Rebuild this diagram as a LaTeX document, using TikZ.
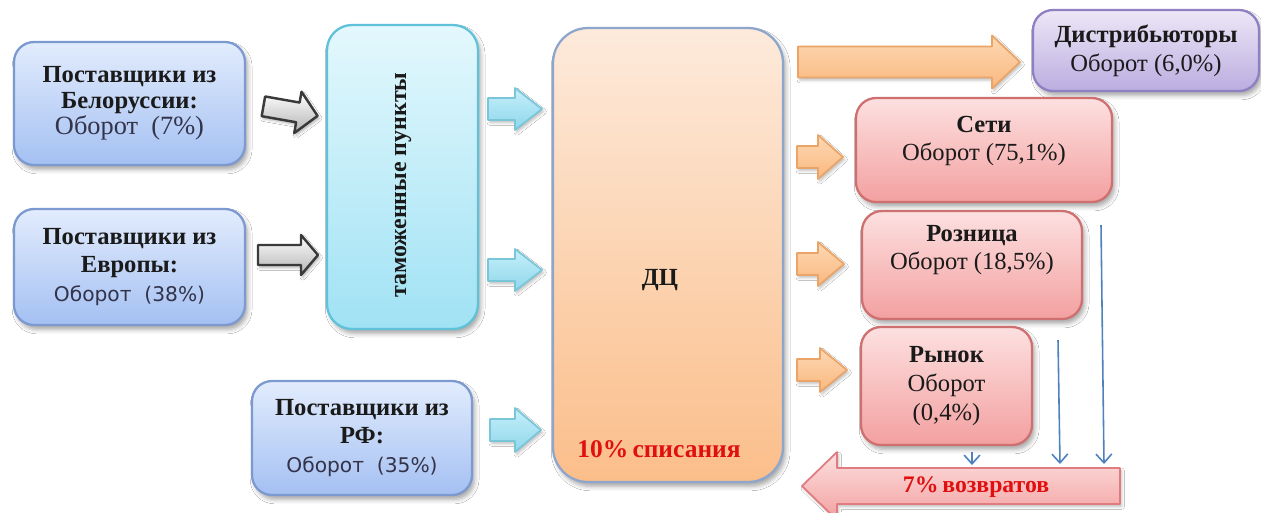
\documentclass[tikz,border=0pt]{standalone}
\usepackage{fontspec}
\setmainfont{Liberation Serif}
\newfontfamily\sansf{DejaVu Sans}
\usetikzlibrary{shadows.blur,arrows.meta}
\definecolor{txt}{HTML}{1A1A1A}
\definecolor{txtB}{HTML}{33334A}
\definecolor{blueT}{HTML}{E2ECFD}
\definecolor{blueD}{HTML}{A4C0F2}
\definecolor{blueB}{HTML}{7C9AD0}
\definecolor{cyanT}{HTML}{E4F8FD}
\definecolor{cyanD}{HTML}{A0E2F4}
\definecolor{cyanB}{HTML}{5FC2D9}
\definecolor{peachT}{HTML}{FDEADB}
\definecolor{peachD}{HTML}{FBBE8A}
\definecolor{peachB}{HTML}{8EA6CC}
\definecolor{lilT}{HTML}{EDE7F7}
\definecolor{lilD}{HTML}{BBADE0}
\definecolor{lilB}{HTML}{8F7FC3}
\definecolor{pinkT}{HTML}{FDE0E0}
\definecolor{pinkD}{HTML}{F3A0A0}
\definecolor{pinkB}{HTML}{CF7070}
\definecolor{grayB}{HTML}{3A3A3A}
\definecolor{barB}{HTML}{79C6D9}
\definecolor{barT}{HTML}{C6EFFA}
\definecolor{barD}{HTML}{8ED7EB}
\definecolor{oarB}{HTML}{EAA468}
\definecolor{oarT}{HTML}{FDD8B4}
\definecolor{oarD}{HTML}{F9B87E}
\definecolor{retB}{HTML}{E07C80}
\definecolor{thinB}{HTML}{4F81BD}
\definecolor{redT}{HTML}{E01010}
\def\pxu{0.02cm}
\newcommand\rarrow[7]{% style, x1, x2, cy, body half, head half, head length
  \path[#1] (#2,-#4+#5) -- (#3-#7,-#4+#5) -- (#3-#7,-#4+#6) -- (#3,-#4)
    -- (#3-#7,-#4-#6) -- (#3-#7,-#4-#5) -- (#2,-#4-#5) -- cycle;}
\tikzset{
  shad/.style={blur shadow={shadow xshift=1.5pt,shadow yshift=-2.5pt,shadow blur radius=2.5pt,shadow opacity=35}},
  box/.style={draw, line width=1.3pt, rounded corners=0.4cm, align=center, inner sep=0pt,
    font=\fontsize{14}{16.4}\selectfont, text=txt, shad},
  bluebox/.style={box, draw=blueB, top color=blueT, bottom color=blueD},
  cyanbox/.style={box, draw=cyanB, top color=cyanT, bottom color=cyanD, rounded corners=0.5cm},
  peachbox/.style={box, draw=peachB, top color=peachT, bottom color=peachD, rounded corners=0.7cm},
  lilbox/.style={box, draw=lilB, top color=lilT, bottom color=lilD},
  pinkbox/.style={box, draw=pinkB, top color=pinkT, bottom color=pinkD},
  lbl/.style={align=center, inner sep=0pt, font=\fontsize{14}{16.4}\selectfont, text=txt},
  grayarr/.style={draw=grayB, line width=1.4pt, line join=round, top color=white, bottom color=black!30,
    blur shadow={shadow xshift=1pt,shadow yshift=-1.5pt,shadow blur radius=1.5pt,shadow opacity=30}},
  bluearr/.style={draw=barB, line width=1pt, line join=round, top color=barT, bottom color=barD,
    blur shadow={shadow xshift=1pt,shadow yshift=-1.5pt,shadow blur radius=1.5pt,shadow opacity=25}},
  orarr/.style={draw=oarB, line width=1pt, line join=round, top color=oarT, bottom color=oarD,
    blur shadow={shadow xshift=1pt,shadow yshift=-1.5pt,shadow blur radius=1.5pt,shadow opacity=25}},
  retarr/.style={draw=retB, line width=1pt, line join=round, top color=pinkT, bottom color=pinkD,
    blur shadow={shadow xshift=1pt,shadow yshift=-1.5pt,shadow blur radius=1.5pt,shadow opacity=25}},
  thinarr/.style={draw=thinB, line width=0.9pt, -{Straight Barb[length=5pt,width=9pt]}},
}
\begin{document}
\begin{tikzpicture}[x=0.02cm,y=0.02cm]
\useasboundingbox (0,0) rectangle (1261,-512);
\fill[white] (0,0) rectangle (1261,-512);

% supplier boxes
\node[bluebox, minimum width=231*\pxu, minimum height=123*\pxu, font=\fontsize{14}{14.8}\selectfont] (bel) at (129.5,-103.5)
  {\textbf{Поставщики из}\\\textbf{Белоруссии:}\\{\fontsize{15}{14.8}\selectfont\color{txtB}Оборот\ \ (7\%)}};
\node[bluebox, minimum width=231*\pxu, minimum height=116*\pxu] (eur) at (129.5,-267)
  {\textbf{Поставщики из}\\\textbf{Европы:}\\{\sansf\fontsize{11.5}{16.4}\selectfont\color{txtB}Оборот\ \ (38\%)}};
\node[bluebox, minimum width=220*\pxu, minimum height=114*\pxu] (rf) at (362,-438)
  {\textbf{Поставщики из}\\\textbf{РФ:}\\{\sansf\fontsize{11.5}{16.4}\selectfont\color{txtB}Оборот\ \ (35\%)}};

% customs
\node[cyanbox, minimum width=151*\pxu, minimum height=304*\pxu] (cust) at (402.5,-177) {};
\node[lbl, rotate=90, font=\fontsize{13.6}{16}\selectfont\bfseries] (custT) at (403,-185) {таможенные пункты};

% DC
\node[peachbox, minimum width=230*\pxu, minimum height=454*\pxu] (dc) at (668,-255) {};
\node[lbl, font=\fontsize{14}{16}\selectfont\bfseries] (dcT) at (660,-280) {ДЦ};
\node[lbl, font=\fontsize{14.5}{16}\selectfont\bfseries, text=redT] (dcW) at (659,-449) {10\%\,списания};

% customers
\node[lilbox, minimum width=226*\pxu, minimum height=81*\pxu] (dist) at (1146,-50.5)
  {\textbf{Дистрибьюторы}\\Оборот (6,0\%)};
\node[pinkbox, minimum width=256*\pxu, minimum height=104*\pxu] (seti) at (984,-150) {};
\node[lbl] (setiT) at (984,-141) {\textbf{Сети}\\Оборот (75,1\%)};
\node[pinkbox, minimum width=220*\pxu, minimum height=108*\pxu] (rozn) at (972,-265) {};
\node[lbl] (roznT) at (972,-250) {\textbf{Розница}\\Оборот (18,5\%)};
\node[pinkbox, minimum width=171*\pxu, minimum height=118*\pxu] (ryn) at (946.5,-386)
  {\textbf{Рынок}\\Оборот\\(0,4\%)};

% block arrows: suppliers -> customs
\rarrow{grayarr, rotate around={-10:(290,-111)}}{263}{318}{111}{10}{21}{20}
\rarrow{grayarr}{258}{318}{255}{10}{20}{17}
% customs / RF -> DC
\rarrow{bluearr}{488}{542}{109}{11}{21}{27}
\rarrow{bluearr}{488}{542}{270}{11}{21}{27}
\rarrow{bluearr}{490}{541}{430}{11}{22}{26}
% DC -> customers
\rarrow{orarr}{798}{1020}{62}{15.5}{26.5}{28}
\rarrow{orarr}{797}{843}{157}{11}{22}{25}
\rarrow{orarr}{797}{844}{264}{11}{22}{26}
\rarrow{orarr}{797}{847}{370}{11}{22}{27}

% returns arrow
\path[retarr] (1120,-468) -- (837,-468) -- (837,-452) -- (802,-486) -- (837,-520) -- (837,-504) -- (1120,-504) -- cycle;
\node[lbl, font=\fontsize{13.5}{16}\selectfont\bfseries, text=redT] (ret) at (976,-487) {7\%\,возвратов};

% thin return arrows
\coordinate (t1s) at (1101,-225);
\coordinate (t1e) at (1104,-464);
\coordinate (t2s) at (1058,-340);
\coordinate (t2e) at (1060,-464);
\coordinate (t3s) at (972,-452);
\coordinate (t3e) at (972,-465);
\draw[thinarr] (t1s) -- (t1e);
\draw[thinarr] (t2s) -- (t2e);
\draw[thinarr] (t3s) -- (t3e);
\end{tikzpicture}
\end{document}
